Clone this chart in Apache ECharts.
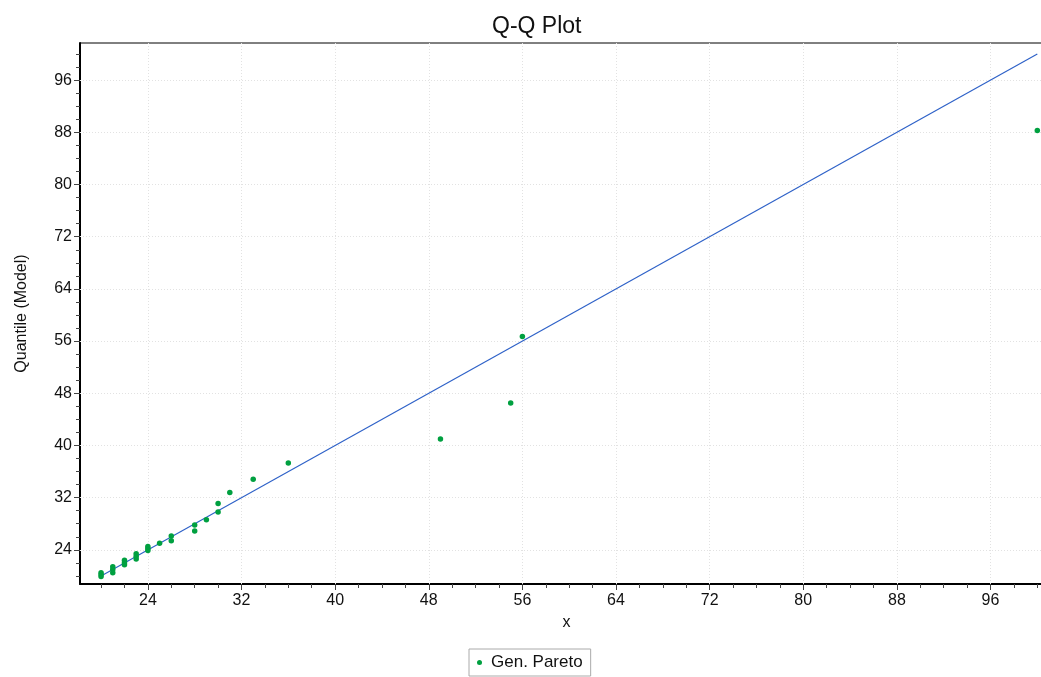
<!DOCTYPE html>
<html>
<head>
<meta charset="utf-8">
<script src="https://cdn.jsdelivr.net/npm/echarts@6/dist/echarts.min.js"></script>
<style>
html,body{margin:0;padding:0;background:#fff;}
#chart{width:1041px;height:677px;}
</style>
</head>
<body>
<div id="chart"></div>
<script>
// Sample values (x) and model quantiles (y)
const sampleX = [20,20,20,21,21,21,22,22,22,23,23,23,24,24,24,25,26,26,28,28,29,30,30,31,33,36,49,55,56,100];
const modelQ  = [19.9,20.2,20.5,20.5,21.0,21.4,21.7,22.0,22.4,22.6,23.0,23.4,23.9,24.2,24.5,25.0,25.4,26.1,26.9,27.8,28.6,29.8,31.1,32.8,34.8,37.3,41.0,46.5,56.7,88.3];
// Reference line y = x
const refLineX = [20, 100];
const refLineY = [20, 100];
// Tick labels
const majorTicks = [24,32,40,48,56,64,72,80,88,96];
const minorTicks = [20,22,24,26,28,30,32,34,36,38,40,42,44,46,48,50,52,54,56,58,60,62,64,66,68,70,72,74,76,78,80,82,84,86,88,90,92,94,96,98,100];
// Axis ranges
const xRange = [18.2, 100.4];
const yRange = [18.76, 101.7];

const FONT = 'Liberation Sans, Arial, sans-serif';
const chart = echarts.init(document.getElementById('chart'));

const scatterData = sampleX.map((x, i) => [x, modelQ[i]]);
const lineData = refLineX.map((x, i) => [x, refLineY[i]]);

// grid lines at major ticks only, drawn through the axes' scales
const gridMarks = majorTicks.map(v => ({ xAxis: v })).concat(majorTicks.map(v => ({ yAxis: v })));

chart.setOption({
  animation: false,
  backgroundColor: '#fff',
  title: {
    text: 'Q-Q Plot',
    left: 487, top: 10,
    textStyle: { fontFamily: FONT, fontSize: 23, fontWeight: 'normal', color: '#111' }
  },
  legend: {
    data: ['Gen. Pareto'],
    left: 469, top: 649,
    padding: [5, 8, 5, 8],
    borderColor: '#aaa', borderWidth: 1, borderRadius: 0,
    backgroundColor: '#fff',
    icon: 'circle', itemWidth: 5, itemHeight: 5, itemGap: 8,
    textStyle: { fontFamily: FONT, fontSize: 17, color: '#111', padding: [0, 0, 0, 4] }
  },
  grid: {
    left: 80, right: -1, top: 43, bottom: 93,
    outerBoundsMode: 'none', containLabel: false,
    show: true, borderColor: '#000', borderWidth: 1, backgroundColor: 'transparent'
  },
  xAxis: [{
    type: 'value', min: xRange[0], max: xRange[1],
    name: 'x', nameLocation: 'middle', nameGap: 31,
    nameTextStyle: { fontFamily: FONT, fontSize: 16, color: '#111', padding: [0, 0, 0, 11] },
    axisLine: { show: true, lineStyle: { color: '#000', width: 2 } },
    axisTick: { show: true, customValues: majorTicks, length: 6, lineStyle: { color: '#444' } },
    axisLabel: { customValues: majorTicks, fontFamily: FONT, fontSize: 16, color: '#111', margin: 9 },
    splitLine: { show: false }
  }, {
    type: 'value', min: xRange[0], max: xRange[1], position: 'bottom',
    axisLine: { show: false },
    axisTick: { show: true, customValues: minorTicks, length: 4, lineStyle: { color: '#444' } },
    axisLabel: { show: false }, splitLine: { show: false }
  }],
  yAxis: [{
    type: 'value', min: yRange[0], max: yRange[1],
    name: 'Quantile (Model)', nameLocation: 'middle', nameGap: 50, nameRotate: 90,
    nameTextStyle: { fontFamily: FONT, fontSize: 16, color: '#111' },
    axisLine: { show: true, lineStyle: { color: '#000', width: 2 } },
    axisTick: { show: true, customValues: majorTicks, length: 6, lineStyle: { color: '#444' } },
    axisLabel: { customValues: majorTicks, fontFamily: FONT, fontSize: 16, color: '#111', margin: 8 },
    splitLine: { show: false }
  }, {
    type: 'value', min: yRange[0], max: yRange[1], position: 'left',
    axisLine: { show: false },
    axisTick: { show: true, customValues: minorTicks, length: 4, lineStyle: { color: '#444' } },
    axisLabel: { show: false }, splitLine: { show: false }
  }],
  series: [{
    name: 'Reference', type: 'line', data: lineData,
    xAxisIndex: 0, yAxisIndex: 0,
    symbol: 'none', lineStyle: { color: '#2f62c8', width: 1.2 }, z: 2, silent: true,
    markLine: {
      silent: true, symbol: 'none', animation: false,
      label: { show: false },
      lineStyle: { color: '#e2e2e2', type: [1, 2], width: 1 },
      emphasis: { disabled: true },
      data: gridMarks,
      z: 1
    }
  }, {
    name: 'Gen. Pareto', type: 'scatter', data: scatterData,
    xAxisIndex: 0, yAxisIndex: 0,
    symbol: 'circle', symbolSize: 5.5,
    itemStyle: { color: '#00a040', opacity: 1 }, z: 3
  }]
});
</script>
</body>
</html>
